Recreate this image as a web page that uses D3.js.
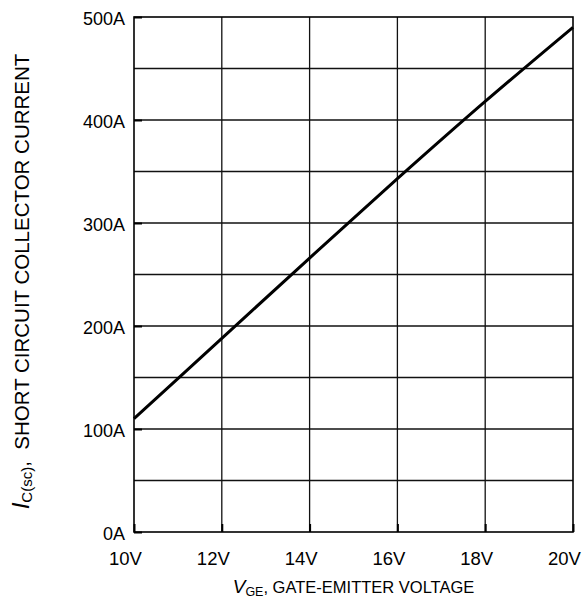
<!DOCTYPE html>
<html>
<head>
<meta charset="utf-8">
<script src="https://cdn.jsdelivr.net/npm/d3@7"></script>
<style>
  body { margin: 0; background: #fff; }
  text { font-family: "Liberation Sans", Arial, sans-serif; fill: #000; }
</style>
</head>
<body>
<div id="chart"></div>
<script>
// data
var vge = [10, 12, 14, 16, 18, 20];
var icsc = [110, 188, 266, 343, 418, 490];
var xTicks = [10, 12, 14, 16, 18, 20];
var yTicks = [0, 100, 200, 300, 400, 500];
var yGrid = [50, 100, 150, 200, 250, 300, 350, 400, 450];

var margin = {top: 17, right: 14, bottom: 66, left: 134},
    width = 587 - margin.left - margin.right,
    height = 598 - margin.top - margin.bottom;

var svg = d3.select("#chart")
  .append("svg")
    .attr("width", 587)
    .attr("height", 598)
  .append("g")
    .attr("transform", "translate(" + margin.left + "," + margin.top + ")");

var x = d3.scaleLinear().domain([10, 20]).range([0, width]);
var y = d3.scaleLinear().domain([0, 500]).range([height, 0]);

// grid
svg.selectAll(".vgrid")
  .data(xTicks.slice(1, -1))
  .enter().append("line")
    .attr("x1", d => x(d)).attr("x2", d => x(d))
    .attr("y1", 0).attr("y2", height)
    .attr("stroke", "#111").attr("stroke-width", 1.3);

svg.selectAll(".hgrid")
  .data(yGrid)
  .enter().append("line")
    .attr("x1", 0).attr("x2", width)
    .attr("y1", d => y(d)).attr("y2", d => y(d))
    .attr("stroke", "#111").attr("stroke-width", 1.3);

// frame
svg.append("rect")
  .attr("width", width).attr("height", height)
  .attr("fill", "none").attr("stroke", "#000").attr("stroke-width", 1.6);

// inward ticks
svg.append("g")
  .attr("transform", "translate(0," + height + ")")
  .call(d3.axisBottom(x).tickValues(xTicks).tickSize(-8).tickFormat(d => d + "V").tickPadding(0))
  .call(g => g.select(".domain").remove())
  .call(g => g.selectAll("line").attr("stroke-width", 2))
  .call(g => g.selectAll("text")
      .attr("font-size", "18.5px")
      .attr("font-family", "Liberation Sans, Arial, sans-serif")
      .attr("x", -9).attr("y", 33).attr("dy", 0));

svg.append("g")
  .call(d3.axisLeft(y).tickValues(yTicks).tickSize(-8).tickFormat(d => d + "A").tickPadding(9))
  .call(g => g.select(".domain").remove())
  .call(g => g.selectAll("line").attr("stroke-width", 2))
  .call(g => g.selectAll("text").attr("font-size", "18px").attr("dy", "0.4em")
      .attr("font-family", "Liberation Sans, Arial, sans-serif"));

// curve
var line = d3.line()
  .x((d, i) => x(vge[i]))
  .y(d => y(d))
  .curve(d3.curveMonotoneX);

svg.append("path")
  .datum(icsc)
  .attr("d", line)
  .attr("fill", "none")
  .attr("stroke", "#000")
  .attr("stroke-width", 3);

// x label
var xl = svg.append("text")
  .attr("x", width / 2)
  .attr("y", height + 61)
  .attr("text-anchor", "middle")
  .attr("font-size", "16.5px");
xl.append("tspan").attr("font-style", "italic").attr("font-size", "19px").text("V");
xl.append("tspan").attr("font-size", "12.5px").attr("dy", "3").text("GE");
xl.append("tspan").attr("dy", "-3").text(", GATE-EMITTER VOLTAGE");

// y label
var yl = svg.append("text")
  .attr("transform", "translate(" + (-105) + "," + (height / 2 + 7) + ") rotate(-90)")
  .attr("text-anchor", "middle")
  .attr("font-size", "20.5px");
yl.append("tspan").attr("font-style", "italic").attr("font-size", "24px").text("I");
yl.append("tspan").attr("font-size", "15px").attr("dy", "3").text("C(sc)");
yl.append("tspan").attr("dy", "-3").text(",\u00a0\u00a0SHORT CIRCUIT COLLECTOR CURRENT");
</script>
</body>
</html>
